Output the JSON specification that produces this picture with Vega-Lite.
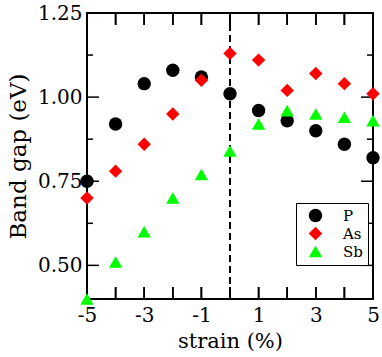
{
  "$schema": "https://vega.github.io/schema/vega-lite/v6.json",
  "width": 286,
  "height": 286,
  "autosize": "none",
  "padding": {"left": 87, "top": 13, "right": 9, "bottom": 58},
  "background": "white",
  "config": {
    "view": {"stroke": "black", "strokeWidth": 2},
    "font": "DejaVu Serif",
    "axis": {
      "grid": false,
      "domain": false,
      "ticks": false,
      "labelColor": "black",
      "titleColor": "black",
      "titleFontWeight": "normal"
    },
    "legend": {
      "orient": "none",
      "legendX": 209,
      "legendY": 190,
      "strokeColor": "black",
      "strokeWidth": 1,
      "fillColor": "white",
      "padding": 5,
      "symbolOffset": 7,
      "labelOffset": 20,
      "labelFontSize": 15,
      "labelFont": "DejaVu Serif",
      "labelColor": "black",
      "symbolSize": 180,
      "rowPadding": 2,
      "symbolStrokeWidth": 0
    }
  },
  "datasets": {
    "majorY": [{"v": 0.5}, {"v": 0.75}, {"v": 1.0}, {"v": 1.25}],
    "minorY": [{"v": 0.625}, {"v": 0.875}, {"v": 1.125}]
  },
  "data": {
    "values": [
      {"strain": -5, "series": "P", "gap": 0.75},
      {"strain": -4, "series": "P", "gap": 0.92},
      {"strain": -3, "series": "P", "gap": 1.04},
      {"strain": -2, "series": "P", "gap": 1.08},
      {"strain": -1, "series": "P", "gap": 1.06},
      {"strain": 0, "series": "P", "gap": 1.01},
      {"strain": 1, "series": "P", "gap": 0.96},
      {"strain": 2, "series": "P", "gap": 0.93},
      {"strain": 3, "series": "P", "gap": 0.90},
      {"strain": 4, "series": "P", "gap": 0.86},
      {"strain": 5, "series": "P", "gap": 0.82},
      {"strain": -5, "series": "As", "gap": 0.70},
      {"strain": -4, "series": "As", "gap": 0.78},
      {"strain": -3, "series": "As", "gap": 0.86},
      {"strain": -2, "series": "As", "gap": 0.95},
      {"strain": -1, "series": "As", "gap": 1.05},
      {"strain": 0, "series": "As", "gap": 1.13},
      {"strain": 1, "series": "As", "gap": 1.11},
      {"strain": 2, "series": "As", "gap": 1.02},
      {"strain": 3, "series": "As", "gap": 1.07},
      {"strain": 4, "series": "As", "gap": 1.04},
      {"strain": 5, "series": "As", "gap": 1.01},
      {"strain": -5, "series": "Sb", "gap": 0.40},
      {"strain": -4, "series": "Sb", "gap": 0.51},
      {"strain": -3, "series": "Sb", "gap": 0.60},
      {"strain": -2, "series": "Sb", "gap": 0.70},
      {"strain": -1, "series": "Sb", "gap": 0.77},
      {"strain": 0, "series": "Sb", "gap": 0.84},
      {"strain": 1, "series": "Sb", "gap": 0.92},
      {"strain": 2, "series": "Sb", "gap": 0.96},
      {"strain": 3, "series": "Sb", "gap": 0.95},
      {"strain": 4, "series": "Sb", "gap": 0.94},
      {"strain": 5, "series": "Sb", "gap": 0.93}
    ]
  },
  "layer": [
    {
      "data": {"values": [{"strain": 0}]},
      "mark": {"type": "rule", "strokeDash": [7, 4], "strokeWidth": 2, "color": "black"},
      "encoding": {
        "x": {"field": "strain", "type": "quantitative", "scale": {"domain": [-5, 5], "nice": false}}
      }
    },
    {
      "mark": {"type": "tick", "orient": "vertical", "size": 12, "thickness": 1.5, "color": "black", "opacity": 1, "yOffset": 6},
      "encoding": {
        "x": {"field": "strain", "type": "quantitative", "scale": {"domain": [-5, 5], "nice": false}},
        "y": {"datum": 1.25, "type": "quantitative", "scale": {"domain": [0.4, 1.25], "nice": false, "zero": false}}
      }
    },
    {
      "mark": {"type": "tick", "orient": "vertical", "size": 12, "thickness": 1.5, "color": "black", "opacity": 1, "yOffset": -6},
      "encoding": {
        "x": {"field": "strain", "type": "quantitative", "scale": {"domain": [-5, 5], "nice": false}},
        "y": {"datum": 0.4, "type": "quantitative", "scale": {"domain": [0.4, 1.25], "nice": false, "zero": false}}
      }
    },
    {
      "data": {"name": "majorY"},
      "mark": {"type": "tick", "orient": "horizontal", "size": 12, "thickness": 1.5, "color": "black", "opacity": 1, "xOffset": 6},
      "encoding": {
        "x": {"datum": -5, "type": "quantitative", "scale": {"domain": [-5, 5], "nice": false}},
        "y": {"field": "v", "type": "quantitative", "scale": {"domain": [0.4, 1.25], "nice": false, "zero": false}}
      }
    },
    {
      "data": {"name": "majorY"},
      "mark": {"type": "tick", "orient": "horizontal", "size": 12, "thickness": 1.5, "color": "black", "opacity": 1, "xOffset": -6},
      "encoding": {
        "x": {"datum": 5, "type": "quantitative", "scale": {"domain": [-5, 5], "nice": false}},
        "y": {"field": "v", "type": "quantitative", "scale": {"domain": [0.4, 1.25], "nice": false, "zero": false}}
      }
    },
    {
      "data": {"name": "minorY"},
      "mark": {"type": "tick", "orient": "horizontal", "size": 6, "thickness": 1.5, "color": "black", "opacity": 1, "xOffset": 3},
      "encoding": {
        "x": {"datum": -5, "type": "quantitative", "scale": {"domain": [-5, 5], "nice": false}},
        "y": {"field": "v", "type": "quantitative", "scale": {"domain": [0.4, 1.25], "nice": false, "zero": false}}
      }
    },
    {
      "data": {"name": "minorY"},
      "mark": {"type": "tick", "orient": "horizontal", "size": 6, "thickness": 1.5, "color": "black", "opacity": 1, "xOffset": -3},
      "encoding": {
        "x": {"datum": 5, "type": "quantitative", "scale": {"domain": [-5, 5], "nice": false}},
        "y": {"field": "v", "type": "quantitative", "scale": {"domain": [0.4, 1.25], "nice": false, "zero": false}}
      }
    },
    {
      "mark": {"type": "point", "filled": true, "size": 180, "opacity": 1},
      "encoding": {
        "x": {
          "field": "strain", "type": "quantitative",
          "scale": {"domain": [-5, 5], "nice": false},
          "axis": {
            "orient": "bottom", "values": [-5, -4, -3, -2, -1, 0, 1, 2, 3, 4, 5],
            "labelPadding": 6,
            "labelExpr": "toString(datum.value)",
            "labelFont": "DejaVu Serif", "labelFontSize": 20, "labelFlush": false,
            "title": "strain (%)", "titleFont": "DejaVu Serif", "titleFontSize": 21, "titlePadding": 5
          }
        },
        "y": {
          "field": "gap", "type": "quantitative",
          "scale": {"domain": [0.4, 1.25], "nice": false, "zero": false},
          "axis": {
            "orient": "left", "values": [0.5, 0.75, 1.0, 1.25],
            "labelPadding": 5,
            "format": ".2f",
            "labelFont": "DejaVu Serif", "labelFontSize": 20, "labelFlush": false,
            "title": "Band gap (eV)", "titleFont": "DejaVu Serif", "titleFontSize": 23, "titlePadding": 7
          }
        },
        "color": {
          "field": "series", "type": "nominal",
          "scale": {"domain": ["P", "As", "Sb"], "range": ["#000000", "#ff0000", "#00ff00"]},
          "legend": {"title": null}
        },
        "shape": {
          "field": "series", "type": "nominal",
          "scale": {"domain": ["P", "As", "Sb"], "range": ["circle", "diamond", "triangle-up"]},
          "legend": {"title": null}
        }
      }
    }
  ]
}
